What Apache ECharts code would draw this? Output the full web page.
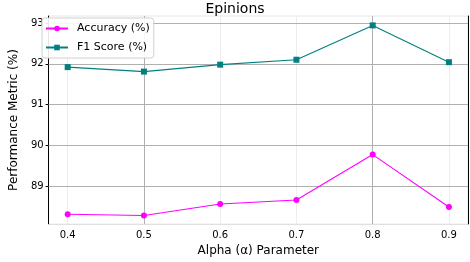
<!DOCTYPE html>
<html><head><meta charset="utf-8">
<script src="https://cdn.jsdelivr.net/npm/echarts@6/dist/echarts.min.js"></script>
<style>html,body{margin:0;padding:0;background:#fff}#c{width:470px;height:262px}</style>
</head><body><div id="c"></div>
<script>
const alphas = [0.4, 0.5, 0.6, 0.7, 0.8, 0.9];
const accuracy = [88.32, 88.29, 88.57, 88.67, 89.78, 88.50];
const f1 = [91.92, 91.81, 91.98, 92.10, 92.94, 92.04];
const xTicks = [0.4, 0.5, 0.6, 0.7, 0.8, 0.9];
const yTicks = [89, 90, 91, 92, 93];
const FONT = 'DejaVu Sans';

const chart = echarts.init(document.getElementById('c'), null, {renderer: 'canvas'});
const pair = (xs, ys) => xs.map((x, i) => [x, ys[i]]);
const Y_MIN = 88.08, Y_MAX = 93.17;
chart.setOption({
  animation: false,
  backgroundColor: '#fff',
  title: {text: 'Epinions', left: 'center', top: -3,
    textStyle: {fontFamily: FONT, fontSize: 14, fontWeight: 'normal', color: '#000'}},
  grid: {left: 36, right: 2, top: 16, bottom: 32, show: true, borderColor: '#e6e6e6', borderWidth: 1},
  legend: {
    left: 42, top: 18, orient: 'vertical', itemGap: 8, itemWidth: 22, itemHeight: 7,
    backgroundColor: 'rgba(255,255,255,0.9)', borderColor: '#d0d0d0', borderWidth: 1, borderRadius: 3,
    padding: [5, 4, 5, 3],
    textStyle: {fontFamily: FONT, fontSize: 11, color: '#000', padding: [0, 0, 0, 4]},
    data: ['Accuracy (%)', 'F1 Score (%)']
  },
  xAxis: {
    type: 'value', min: 0.375, max: 0.925,
    name: 'Alpha (α) Parameter', nameLocation: 'middle', nameGap: 19,
    nameTextStyle: {fontFamily: FONT, fontSize: 12, color: '#000'},
    axisLine: {show: true, lineStyle: {color: '#e0e0e0', width: 1}},
    axisTick: {show: false, customValues: xTicks},
    axisLabel: {customValues: xTicks, fontFamily: FONT, fontSize: 10, color: '#000', margin: 6,
      formatter: v => v.toFixed(1)},
    splitLine: {show: false}
  },
  yAxis: [{
    type: 'value', min: Y_MIN, max: Y_MAX,
    name: 'Performance Metric (%)', nameLocation: 'middle', nameGap: 24, nameRotate: 90,
    nameTextStyle: {fontFamily: FONT, fontSize: 12, color: '#000'},
    axisLine: {show: true, lineStyle: {color: '#000', width: 1}},
    axisTick: {show: true, customValues: yTicks, length: 3, lineStyle: {color: '#000'}},
    axisLabel: {customValues: yTicks, fontFamily: FONT, fontSize: 10, color: '#000', margin: 5,
      formatter: v => String(Math.round(v))},
    splitLine: {show: false}
  }, {
    type: 'value', min: Y_MIN, max: Y_MAX, position: 'right',
    axisLine: {show: true, lineStyle: {color: '#000', width: 1}},
    axisTick: {show: false}, axisLabel: {show: false}, splitLine: {show: false}
  }],
  series: [
    {name: 'Accuracy (%)', type: 'line', data: pair(alphas, accuracy),
      symbol: 'circle', symbolSize: 6, color: '#ff00ff', lineStyle: {width: 1.1, color: '#ff00ff'},
      itemStyle: {color: '#ff00ff'}, z: 5,
      markLine: {silent: true, symbol: 'none', label: {show: false}, animation: false, z: 1,
        data: xTicks.map(v => ({xAxis: v, lineStyle: {color: (v === 0.5 || v === 0.8) ? '#b0b0b0' : '#ededed', width: 1, type: 'solid'}}))
          .concat(yTicks.map(v => ({yAxis: v, lineStyle: {color: '#b0b0b0', width: 1, type: 'solid'}})))
      }
    },
    {name: 'F1 Score (%)', type: 'line', data: pair(alphas, f1),
      symbol: 'rect', symbolSize: 6, color: '#008080', lineStyle: {width: 1.1, color: '#008080'},
      itemStyle: {color: '#008080'}, z: 5}
  ]
});
</script></body></html>
